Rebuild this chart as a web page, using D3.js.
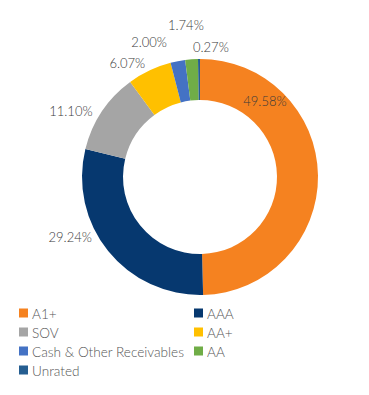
<!DOCTYPE html>
<html><head><meta charset="utf-8">
<script src="https://cdn.jsdelivr.net/npm/d3@7"></script>
<style>
html,body{margin:0;padding:0;background:#fff;}
svg{display:block;font-family:Lato,"Open Sans",sans-serif;}
</style></head>
<body><svg id="chart" width="369" height="395"></svg>
<script>
const categories = ["A1+","AAA","SOV","AA+","Cash & Other Receivables","AA","Unrated"];
const values = [49.58,29.24,11.10,6.07,2.00,1.74,0.27];
const labels = ["49.58%","29.24%","11.10%","6.07%","2.00%","1.74%","0.27%"];
const colors = ["#F58220","#06386F","#A5A5A5","#FFC000","#4472C4","#70AD47","#255E91"];
// label placement: angle (deg, clockwise from top) and radius
const labelAngle = [40.5,245.2,297.1,327.4,339.3,354.7,4.8];
const labelRadius = [100,143,145,135,144,153,130];

const svg = d3.select("#chart");
const cx = 200, cy = 177, R = 118, r0 = 77;
const g = svg.append("g").attr("transform",`translate(${cx},${cy})`);
const pie = d3.pie().sort(null).value(d=>d)(values);
const arc = d3.arc().innerRadius(r0).outerRadius(R);
g.selectAll("path").data(pie).enter().append("path")
  .attr("d",arc).attr("fill",(d,i)=>colors[i]);

g.selectAll("text.lbl").data(labels).enter().append("text")
  .attr("class","lbl")
  .attr("x",(d,i)=>labelRadius[i]*Math.sin(labelAngle[i]*Math.PI/180))
  .attr("y",(d,i)=>-labelRadius[i]*Math.cos(labelAngle[i]*Math.PI/180))
  .attr("text-anchor","middle").attr("dominant-baseline","central")
  .attr("font-size",13).attr("font-weight",300).attr("fill","#3a3a3a")
  .text(d=>d);

const leg = svg.append("g");
const colX = [19,194], rowY0 = 313, rowH = 19;
categories.forEach((c,i)=>{
  const x = colX[i%2], y = rowY0 + Math.floor(i/2)*rowH;
  leg.append("rect").attr("x",x).attr("y",y-4.5).attr("width",9).attr("height",9).attr("fill",colors[i]);
  leg.append("text").attr("x",x+13).attr("y",y+0.5).attr("dominant-baseline","central")
    .attr("font-size",13.6).attr("font-weight",300).attr("fill","#555555").text(c);
});
</script></body></html>
